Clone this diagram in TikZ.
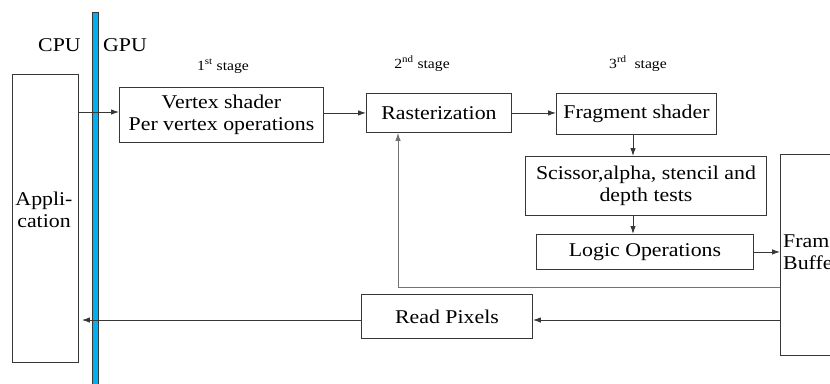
\documentclass[tikz,border=0pt]{standalone}
\usepackage{fontspec}
\setmainfont[FakeStretch=1.12]{Liberation Serif}
\usetikzlibrary{arrows.meta}

\definecolor{linegray}{RGB}{55,55,55}
\definecolor{barblue}{RGB}{0,176,240}

\begin{document}
\begin{tikzpicture}[x=1pt,y=-1pt,
  box/.style={draw=linegray, line width=0.9pt, inner sep=0pt, anchor=north west,
    align=center, font=\fontsize{19.5}{22}\selectfont},
  txt/.style={inner sep=0pt, font=\fontsize{19.5}{22}\selectfont},
  stagelbl/.style={inner sep=0pt, anchor=base, font=\fontsize{14}{16}\selectfont},
  flow/.style={draw=linegray, line width=0.9pt, -{Latex[length=8pt,width=5.5pt]}},
]
\useasboundingbox (0,0) rectangle (830,383);
\clip (0,0) rectangle (830,383);

% CPU / GPU divider
\filldraw[fill=barblue, draw=linegray, line width=0.5pt] (92,12) rectangle (98,390);
\node[txt, anchor=base west] (cpu) at (38,51) {CPU};
\node[txt, anchor=base west] (gpu) at (103,51) {GPU};

% stage labels
\node[stagelbl] (s1) at (223,70) {1\textsuperscript{st} stage};
\node[stagelbl] (s2) at (422,68) {2\textsuperscript{nd} stage};
\node[stagelbl] (s3) at (638,68) {3\textsuperscript{rd}\ \ stage};

% boxes
\node[box, minimum width=66pt, minimum height=288pt] (app) at (12,74) {};
\node[txt, align=center] (apptext) at (44,210) {Appli-\\cation};
\node[box, minimum width=204pt, minimum height=55pt] (vertex) at (119,87)
  {Vertex shader\\Per vertex operations};
\node[box, minimum width=145pt, minimum height=39pt] (raster) at (366,93) {Rasterization};
\node[box, minimum width=160pt, minimum height=41pt] (frag) at (556,93) {Fragment shader};
\node[box, minimum width=241pt, minimum height=59pt] (sciss) at (525,156)
  {Scissor,alpha, stencil and\\depth tests};
\node[box, minimum width=217pt, minimum height=35pt] (logic) at (536,234) {Logic Operations};
\node[box, minimum width=90pt, minimum height=201pt] (fb) at (780,154) {};
\node[txt, align=left, anchor=west] (fbtext) at (783,252) {Frame\\Buffer};
\node[box, minimum width=171pt, minimum height=44pt] (read) at (361,294) {Read Pixels};

% helper coordinates
\coordinate (yin) at (0,112);
\coordinate (xdown) at (633,0);
\coordinate (fbk) at (398,287);
\coordinate (yread) at (0,320);

% connectors
\draw[flow] (app.east |- yin) -- (vertex.west |- yin);
\draw[flow] (vertex.east |- raster.west) -- (raster.west);
\draw[flow] (raster.east) -- (frag.west |- raster.east);
\draw[flow] (frag.south -| xdown) -- (sciss.north -| xdown);
\draw[flow] (sciss.south -| xdown) -- (logic.north -| xdown);
\draw[flow] (logic.east) -- (logic.east -| fb.west);
\draw[flow, draw=gray!90!black] (fb.west |- fbk) -- (fbk) -- (raster.south -| fbk);
\draw[flow] (fb.west |- yread) -- (read.east |- yread);
\draw[flow, shorten >=3pt] (read.west |- yread) -- (app.east |- yread);
\end{tikzpicture}
\end{document}
